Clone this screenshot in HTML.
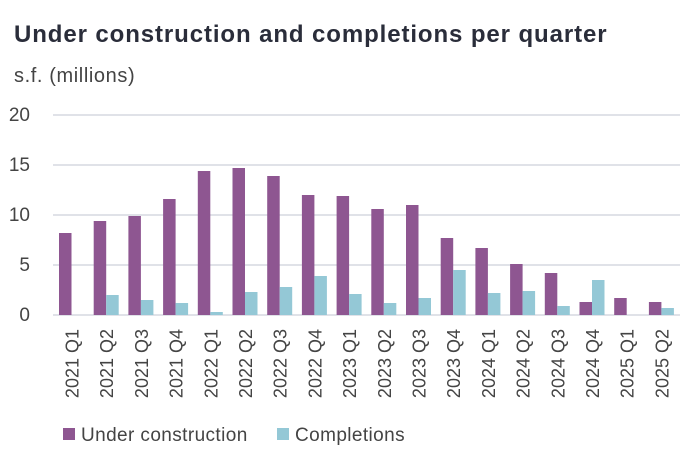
<!DOCTYPE html>
<html><head><meta charset="utf-8"><style>
body{margin:0;background:#fff;}
svg{display:block;font-family:"Liberation Sans",sans-serif;}
</style></head><body>
<svg width="689" height="458">
<text x="14" y="42" font-size="24" letter-spacing="0.9" font-weight="bold" fill="#2a2d3a">Under construction and completions per quarter</text>
<text x="14" y="82" font-size="20" letter-spacing="0.6" fill="#444">s.f. (millions)</text>
<g id="grid"></g><g id="bars"></g><g id="xl"></g>
<g>
<rect x="63" y="428" width="12" height="12" fill="#8e5691"/>
<text x="81" y="441" font-size="19" letter-spacing="0.4" fill="#444">Under construction</text>
<rect x="277" y="428" width="12" height="12" fill="#94c8d6"/>
<text x="295" y="441" font-size="19" letter-spacing="0.4" fill="#444">Completions</text>
</g>
</svg>
<script>
const categories=["2021 Q1","2021 Q2","2021 Q3","2021 Q4","2022 Q1","2022 Q2","2022 Q3","2022 Q4","2023 Q1","2023 Q2","2023 Q3","2023 Q4","2024 Q1","2024 Q2","2024 Q3","2024 Q4","2025 Q1","2025 Q2"];
const underConstruction=[8.2,9.4,9.9,11.6,14.4,14.7,13.9,12.0,11.9,10.6,11.0,7.7,6.7,5.1,4.2,1.3,1.7,1.3];
const completions=[0,2.0,1.5,1.2,0.3,2.3,2.8,3.9,2.1,1.2,1.7,4.5,2.2,2.4,0.9,3.5,0,0.7];
const yTicks=[0,5,10,15,20];
const NS="http://www.w3.org/2000/svg";
const y0=315,yTop=115,yMax=20;
const y=v=>y0-(v/yMax)*(y0-yTop);
const step=34.7,x0=59,bw=12.5;
const x=i=>x0+i*step;
function mk(t,a,p){const e=document.createElementNS(NS,t);for(const k in a)e.setAttribute(k,a[k]);document.getElementById(p).appendChild(e);return e;}
yTicks.forEach(t=>{
 const l=mk("line",{x1:53,x2:680,y1:y(t),y2:y(t),stroke:"#d5d9e0","stroke-width":1.5},"grid");
 
 
 const tx=mk("text",{x:30,y:y(t)+6,"font-size":19,fill:"#444","text-anchor":"end"},"grid");
 tx.textContent=t;
 
 
});
categories.forEach((c,i)=>{
 const a=mk("rect",{x:x(i),y:y(underConstruction[i]),width:bw,height:y0-y(underConstruction[i]),fill:"#8e5691"},"bars");
 
 
 const b=mk("rect",{x:x(i)+bw,y:y(completions[i]),width:bw,height:y0-y(completions[i]),fill:"#94c8d6"},"bars");
 
 
 const cx=x(i)+bw+1;
 const t=mk("text",{x:0,y:0,"font-size":18,fill:"#444","text-anchor":"end",transform:`translate(${cx+6},329) rotate(-90)`},"xl");
 t.textContent=c;
 
 
});
</script>
</body></html>
